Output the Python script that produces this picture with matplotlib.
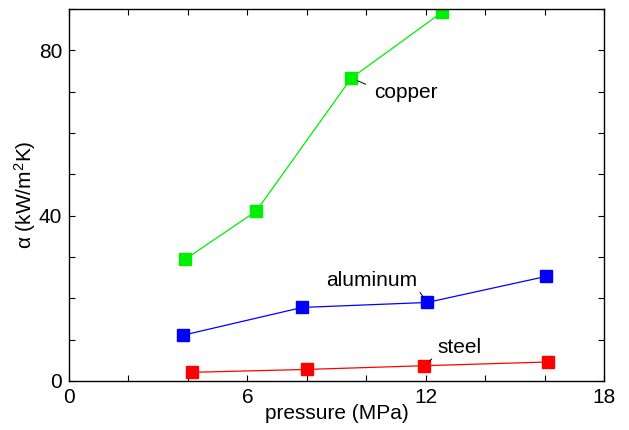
import numpy as np
import matplotlib
matplotlib.use('Agg')
import matplotlib.pyplot as plt

plt.rcParams['font.family'] = ['Liberation Sans', 'DejaVu Sans']
plt.rcParams['mathtext.default'] = 'regular'

# pressure (MPa) and heat transfer coefficient (kW/m2K) per metal
copperP = [3.9, 6.3, 9.5, 12.55]
copperA = [29.4, 41.1, 73.3, 89.2]
aluminumP = [3.85, 7.85, 12.05, 16.05]
aluminumA = [11.1, 17.8, 19.0, 25.3]
steelP = [4.15, 8.0, 11.95, 16.1]
steelA = [2.1, 2.8, 3.7, 4.6]

xTicks = [0, 6, 12, 18]
yTicks = [0, 40, 80]

fig = plt.figure(figsize=(6.29, 4.30), dpi=100)
ax = fig.add_axes([69 / 629, 1 - 381 / 430, 535 / 629, 372 / 430])

ax.plot(copperP, copperA, '-s', color='#00ee00', mfc='#00ee00', mec='#00ee00', lw=0.9, ms=9)
ax.plot(aluminumP, aluminumA, '-s', color='#0000ff', mfc='#0000ff', mec='#0000ff', lw=0.9, ms=9)
ax.plot(steelP, steelA, '-s', color='#ff0000', mfc='#ff0000', mec='#ff0000', lw=0.9, ms=9)

ax.set_xlim(0, 18)
ax.set_ylim(0, 90)
ax.set_xticks(np.arange(0, 19, 2))
ax.set_xticklabels([str(t) if t in xTicks else '' for t in range(0, 19, 2)])
ax.set_yticks(np.arange(0, 91, 10))
ax.set_yticklabels([str(t) if t in yTicks else '' for t in range(0, 91, 10)])
ax.tick_params(direction='in', length=4, width=0.8, top=True, right=True, labelsize=15, pad=5)
for s in ax.spines.values():
    s.set_linewidth(1.0)

ax.set_xlabel('pressure (MPa)', fontsize=15, labelpad=-2)
ax.set_ylabel('α (kW/m$^{2}$K)', fontsize=15, labelpad=0.5)

# labels with short leader lines
ax.annotate('copper', xy=(copperP[2], copperA[2]), xytext=(10.25, 69.8),
            fontsize=15, va='center', ha='left',
            arrowprops=dict(arrowstyle='-', color='black', lw=0.7, relpos=(0, 0.75),
                            shrinkA=4, shrinkB=5))
ax.annotate('aluminum', xy=(aluminumP[2], aluminumA[2]), xytext=(8.65, 24.2),
            fontsize=15, va='center', ha='left',
            arrowprops=dict(arrowstyle='-', color='black', lw=0.7, relpos=(1, 0.1),
                            shrinkA=0, shrinkB=5))
ax.annotate('steel', xy=(steelP[2], steelA[2]), xytext=(12.4, 8.0),
            fontsize=15, va='center', ha='left',
            arrowprops=dict(arrowstyle='-', color='black', lw=0.7, relpos=(0, 0.2),
                            shrinkA=3, shrinkB=5))

fig.savefig('out.png', dpi=100)
